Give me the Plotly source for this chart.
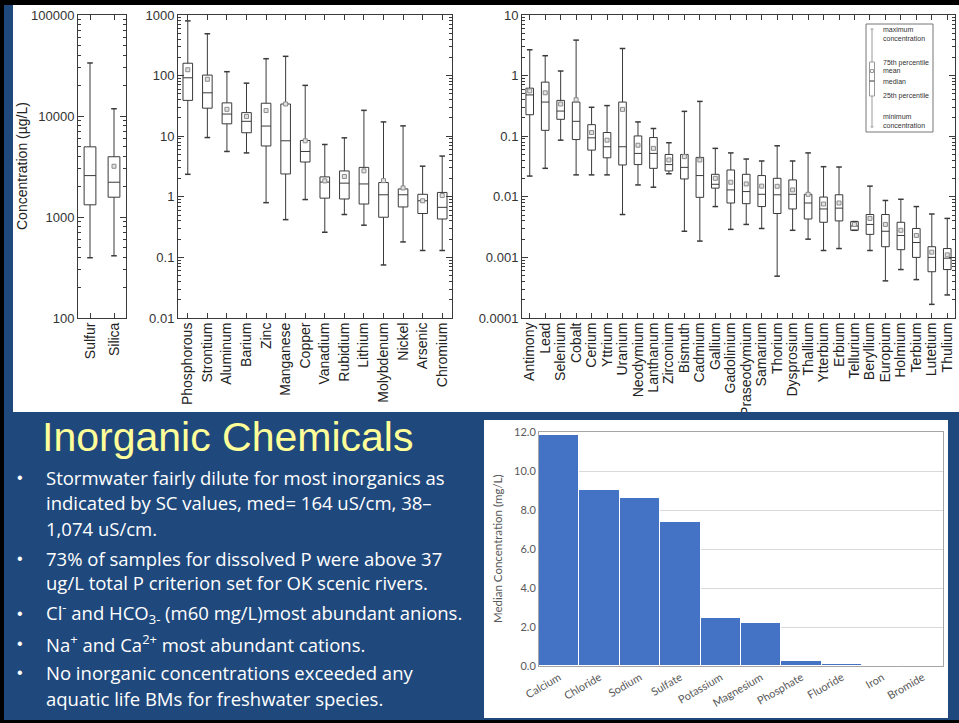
import plotly.graph_objects as go
import math

W, H = 959, 723

# ---------------- data ----------------
cats1 = ["Sulfur", "Silica"]
max1 = [33500, 11800]
q3_1 = [4950, 3950]
med1 = [2570, 2210]
q1_1 = [1320, 1570]
min1 = [395, 413]
mean1 = [None, 3180]

cats2 = ["Phosphorous", "Strontium", "Aluminum", "Barium", "Zinc", "Manganese", "Copper",
         "Vanadium", "Rubidium", "Lithium", "Molybdenum", "Nickel", "Arsenic", "Chromium"]
max2 = [800, 490, 116, 75, 190, 208, 69, 7.3, 9.4, 26.7, 17.2, 14.8, 3.2, 4.7]
q3_2 = [160, 102, 35.5, 24.5, 35, 34, 8.5, 2.13, 2.67, 3.06, 1.72, 1.35, 1.1, 1.18]
med2 = [92, 52, 23.2, 17.6, 14.7, 8.4, 5.6, 1.75, 1.68, 1.63, 1.08, 1.08, 0.86, 0.67]
q1_2 = [39, 29, 16, 11.4, 6.9, 2.38, 3.75, 0.95, 0.92, 0.76, 0.46, 0.68, 0.53, 0.43]
min2 = [2.35, 9.5, 5.6, 5.3, 0.8, 0.42, 0.9, 0.26, 0.51, 0.34, 0.075, 0.18, 0.13, 0.13]
mean2 = [125, 87, 27.8, 21.2, 26.5, 34, 8.4, 1.83, 2.16, 2.68, 1.85, 1.4, 0.86, 1.05]

cats3 = ["Antimony", "Lead", "Selenium", "Cobalt", "Cerium", "Yttrium", "Uranium", "Neodymium",
         "Lanthanum", "Zirconium", "Bismuth", "Cadmium", "Gallium", "Gadolinium", "Praseodymium",
         "Samarium", "Thorium", "Dysprosium", "Thallium", "Ytterbium", "Erbium", "Tellurium",
         "Beryllium", "Europium", "Holmium", "Terbium", "Lutetium", "Thulium"]
max3 = [2.67, 2.13, 1.19, 3.85, 0.30, 0.32, 2.8, 0.172, 0.134, 0.078, 0.257, 0.375, 0.063, 0.053,
        0.042, 0.039, 0.0695, 0.039, 0.053, 0.0314, 0.031, 0.0039, 0.015, 0.0087, 0.0091, 0.0069,
        0.0052, 0.0044]
q3_3 = [0.62, 0.78, 0.39, 0.366, 0.155, 0.115, 0.366, 0.101, 0.095, 0.05, 0.05, 0.0447, 0.0235,
        0.0277, 0.0235, 0.0224, 0.0202, 0.019, 0.011, 0.0099, 0.0108, 0.0039, 0.0051, 0.0051,
        0.0038, 0.003, 0.0015, 0.0014]
med3 = [0.48, 0.366, 0.26, 0.176, 0.094, 0.067, 0.067, 0.052, 0.052, 0.034, 0.0306, 0.0224,
        0.0161, 0.013, 0.0122, 0.011, 0.0108, 0.011, 0.0079, 0.0063, 0.0065, 0.0033, 0.0035,
        0.0027, 0.0023, 0.00176, 0.001, 0.00097]
q1_3 = [0.226, 0.125, 0.19, 0.088, 0.059, 0.044, 0.0335, 0.034, 0.0295, 0.0267, 0.0197, 0.0098,
        0.0139, 0.0079, 0.0077, 0.0069, 0.0053, 0.0063, 0.0043, 0.0038, 0.004, 0.0028, 0.0024,
        0.0015, 0.00134, 0.001, 0.00058, 0.00063]
min3 = [0.022, 0.0295, 0.086, 0.023, 0.023, 0.023, 0.0051, 0.0157, 0.0144, 0.024, 0.0027, 0.00186,
        0.0069, 0.0029, 0.0035, 0.003, 0.00049, 0.0028, 0.002, 0.0013, 0.0014, 0.0028, 0.0013,
        0.00041, 0.00063, 0.00043, 0.000168, 0.00024]
mean3 = [0.56, 0.52, 0.34, 0.4, 0.115, 0.086, 0.277, 0.071, 0.063, 0.0405, 0.046, 0.0405, 0.0202,
         0.0174, 0.0163, 0.015, 0.0149, 0.013, 0.011, 0.0076, 0.0079, 0.0035, 0.0044, 0.0035,
         0.0028, 0.0023, 0.00122, 0.0011]

bar_cats = ["Calcium", "Chloride", "Sodium", "Sulfate", "Potassium", "Magnesium",
            "Phosphate", "Fluoride", "Iron", "Bromide"]
bar_vals = [11.87, 9.02, 8.61, 7.40, 2.45, 2.21, 0.24, 0.12, 0.05, 0.01]

yt1 = [100, 1000, 10000, 100000]
yt1_text = ["100", "1000", "10000", "100000"]
yt2 = [0.01, 0.1, 1, 10, 100, 1000]
yt2_text = ["0.01", "0.1", "1", "10", "100", "1000"]
yt3 = [0.0001, 0.001, 0.01, 0.1, 1, 10]
yt3_text = ["0.0001", "0.001", "0.01", "0.1", "1", "10"]

title_text = "Inorganic Chemicals"
bullet_lines = [
    ("Stormwater fairly dilute for most inorganics as", True),
    ("indicated by SC values, med= 164 uS/cm, 38\u2013", False),
    ("1,074 uS/cm.", False),
    ("73% of samples for dissolved P were above 37", True),
    ("ug/L total P criterion set for OK scenic rivers.", False),
    ("Cl<sup>-</sup> and HCO<sub>3-</sub> (m60 mg/L)most abundant anions.", True),
    ("Na<sup>+</sup> and Ca<sup>2+</sup> most abundant cations.", True),
    ("No inorganic concentrations exceeded any", True),
    ("aquatic life BMs for freshwater species.", False),
]
line_y = [477, 502, 528, 558, 582, 613, 643, 672, 698]

# ---------------- helpers ----------------
def px(x):
    return x / W

def py(y):
    return 1 - y / H

def minors(lo, hi):
    out = []
    for e in range(lo, hi):
        for k in range(2, 10):
            out.append(k * 10 ** e)
    return out

BLUE = "#1F497D"
AX = "#3a3a3a"

fig = go.Figure()

panels = [
    (cats1, max1, q3_1, med1, q1_1, min1, mean1, "x", "y"),
    (cats2, max2, q3_2, med2, q1_2, min2, mean2, "x2", "y2"),
    (cats3, max3, q3_3, med3, q1_3, min3, mean3, "x3", "y3"),
]
for cats, mx, q3, md, q1, mn, me, xa, ya in panels:
    fig.add_trace(go.Box(
        x=cats, q1=q1, median=md, q3=q3, lowerfence=mn, upperfence=mx,
        fillcolor="white", line=dict(color=AX, width=1), whiskerwidth=0,
        boxpoints=False, xaxis=xa, yaxis=ya, showlegend=False, hoverinfo="skip"))
    fig.add_trace(go.Scatter(
        x=cats + cats, y=mx + mn, mode="markers",
        marker=dict(symbol="line-ew", size=4, line=dict(color=AX, width=1.5)),
        xaxis=xa, yaxis=ya, showlegend=False, hoverinfo="skip"))
    fig.add_trace(go.Scatter(
        x=cats, y=me, mode="markers",
        marker=dict(symbol="square", size=4, color="#e2e2e2", line=dict(color="#8c8c8c", width=1)),
        xaxis=xa, yaxis=ya, showlegend=False, hoverinfo="skip"))

fig.add_trace(go.Bar(
    x=bar_cats, y=bar_vals, marker=dict(color="#4472C4", line=dict(color="white", width=1)),
    xaxis="x4", yaxis="y4", showlegend=False, hoverinfo="skip"))

def box_xaxis(domain, cats, anchor):
    return dict(domain=domain, anchor=anchor, type="category", range=[-0.5, len(cats) - 0.5],
                tickmode="array", tickvals=cats, ticktext=cats,
                showline=True, linecolor=AX, linewidth=1, mirror="allticks",
                ticks="inside", ticklen=5, tickcolor=AX, tickangle=-90,
                ticklabelstandoff=-2,
                tickfont=dict(family="Liberation Sans", size=14, color="#222"),
                showgrid=False, zeroline=False, fixedrange=True, automargin=False)

def box_yaxis(domain, lo, hi, tv, tt, anchor):
    return dict(domain=domain, type="log", range=[lo, hi], anchor=anchor,
                tickmode="array", tickvals=tv, ticktext=tt,
                showline=True, linecolor=AX, linewidth=1, mirror="allticks",
                ticks="inside", ticklen=6, tickcolor=AX,
                minor=dict(tickvals=minors(lo, hi), ticks="inside", ticklen=3, tickcolor=AX),
                tickfont=dict(family="Liberation Sans", size=13, color="#333"),
                showgrid=False, zeroline=False, fixedrange=True, automargin=False)

ydom = [py(318), py(15)]
layout = dict(
    width=W, height=H, autosize=False,
    margin=dict(l=0, r=0, t=0, b=0, pad=0),
    paper_bgcolor=BLUE, plot_bgcolor="white",
    bargap=0,
    xaxis=box_xaxis([px(78), px(126)], cats1, "y"),
    yaxis=box_yaxis(ydom, 2, 5, yt1, yt1_text, "x"),
    xaxis2=box_xaxis([px(178), px(452)], cats2, "y2"),
    yaxis2=box_yaxis(ydom, -2, 3, yt2, yt2_text, "x2"),
    xaxis3=box_xaxis([px(522), px(955)], cats3, "y3"),
    yaxis3=box_yaxis(ydom, -4, 1, yt3, yt3_text, "x3"),
    xaxis4=dict(domain=[px(539), px(943)], anchor="y4", type="category",
                showline=True, linecolor="#A6A6A6", mirror=True, ticks="",
                tickangle=-30, tickfont=dict(family="Lato", size=11, color="#595959"),
                showgrid=False, fixedrange=True, automargin=False),
    yaxis4=dict(domain=[py(666), py(432)], anchor="x4", range=[0, 12], dtick=2,
                tickformat=".1f", showline=True, linecolor="#A6A6A6", mirror=True,
                gridcolor="#D9D9D9", zeroline=False, ticks="",
                tickfont=dict(family="Lato", size=11, color="#595959"), fixedrange=True,
                automargin=False),
)
fig.update_layout(**layout)

shapes = []
# black frame bits
shapes.append(dict(type="rect", xref="paper", yref="paper", x0=0, x1=1, y0=py(5), y1=1,
                   fillcolor="black", line=dict(width=0), layer="below"))
shapes.append(dict(type="rect", xref="paper", yref="paper", x0=0, x1=px(4), y0=0, y1=1,
                   fillcolor="black", line=dict(width=0), layer="below"))
shapes.append(dict(type="rect", xref="paper", yref="paper", x0=0, x1=1, y0=0, y1=py(720),
                   fillcolor="black", line=dict(width=0), layer="below"))
# top white image area
shapes.append(dict(type="rect", xref="paper", yref="paper", x0=px(13), x1=1, y0=py(412), y1=py(5),
                   fillcolor="white", line=dict(width=0), layer="below"))
# bar chart white box
shapes.append(dict(type="rect", xref="paper", yref="paper", x0=px(484), x1=px(948), y0=py(718), y1=py(420),
                   fillcolor="white", line=dict(width=0), layer="below"))
# blue strip cropping the bottom of long labels
shapes.append(dict(type="rect", xref="paper", yref="paper", x0=px(13), x1=1, y0=py(420), y1=py(412),
                   fillcolor=BLUE, line=dict(width=0), layer="above"))
# legend box in panel 3
shapes.append(dict(type="rect", xref="paper", yref="paper", x0=px(866), x1=px(933), y0=py(132), y1=py(24),
                   fillcolor="white", line=dict(color="#777", width=1), layer="above"))
LG = "#999999"
gx = 872
shapes.append(dict(type="line", xref="paper", yref="paper", x0=px(gx), x1=px(gx), y0=py(127), y1=py(29),
                   line=dict(color=LG, width=1), layer="above"))
for yy in (29, 127):
    shapes.append(dict(type="line", xref="paper", yref="paper", x0=px(gx - 1.5), x1=px(gx + 1.5),
                       y0=py(yy), y1=py(yy), line=dict(color=LG, width=1), layer="above"))
shapes.append(dict(type="rect", xref="paper", yref="paper", x0=px(gx - 2.5), x1=px(gx + 2.5), y0=py(96), y1=py(62),
                   fillcolor="white", line=dict(color=LG, width=1), layer="above"))
shapes.append(dict(type="rect", xref="paper", yref="paper", x0=px(gx - 1.5), x1=px(gx + 1.5), y0=py(72.5), y1=py(69.5),
                   fillcolor="white", line=dict(color=LG, width=1), layer="above"))
shapes.append(dict(type="line", xref="paper", yref="paper", x0=px(gx - 2.5), x1=px(gx + 2.5), y0=py(81), y1=py(81),
                   line=dict(color="#555", width=1.2), layer="above"))
fig.update_layout(shapes=shapes)

ann = []
# legend texts
leg_items = [("maximum<br>concentration", 34), ("75th percentile", 63), ("mean", 71), ("median", 81),
             ("25th percentile", 96), ("minimum<br>concentration", 121)]
for t, yy in leg_items:
    ann.append(dict(text=t, x=px(881), y=py(yy), xref="paper", yref="paper", xanchor="left",
                    yanchor="middle", align="left", showarrow=False,
                    font=dict(family="Liberation Sans", size=7, color="#333")))
# y title panel 1
ann.append(dict(text="Concentration (\u00b5g/L)", x=px(22), y=py(166), xref="paper", yref="paper",
                textangle=-90, showarrow=False, xanchor="center", yanchor="middle",
                font=dict(family="Liberation Sans", size=14, color="#222")))
# bar y title
ann.append(dict(text="Median Concentration (mg/L)", x=px(497), y=py(549), xref="paper", yref="paper",
                textangle=-90, showarrow=False, xanchor="center", yanchor="middle",
                font=dict(family="Lato", size=11.5, color="#595959")))
# slide title
ann.append(dict(text=title_text, x=px(40), y=py(437), xref="paper", yref="paper",
                xanchor="left", yanchor="middle", showarrow=False,
                font=dict(family="Liberation Sans", size=41, color="#FFFF99")))
for (t, bullet), yy in zip(bullet_lines, line_y):
    ann.append(dict(text=t, x=px(44), y=py(yy), xref="paper", yref="paper", xanchor="left",
                    yanchor="middle", showarrow=False,
                    font=dict(family="Open Sans", size=18.5, color="white")))
    if bullet:
        ann.append(dict(text="\u2022", x=px(20), y=py(yy), xref="paper", yref="paper", xanchor="center",
                        yanchor="middle", showarrow=False,
                        font=dict(family="Liberation Sans", size=16, color="white")))
fig.update_layout(annotations=ann)

fig.write_html("out.html", config={"displayModeBar": False},
               post_script="document.body.style.margin='0';document.body.style.overflow='hidden';")
